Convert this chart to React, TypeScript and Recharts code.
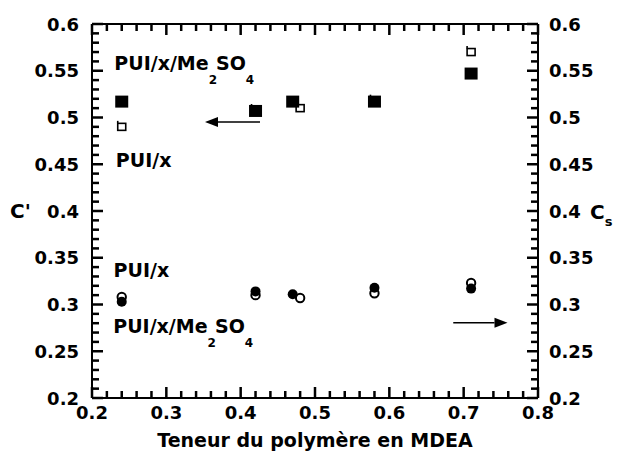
import React from "react";
import {
  ScatterChart,
  Scatter,
  XAxis,
  YAxis,
  ReferenceLine,
  ReferenceDot,
} from "recharts";

const FONT = "'DejaVu Sans', Verdana, sans-serif";

// teneur du polymère en MDEA
const xMe2SO4 = [0.24, 0.42, 0.47, 0.58, 0.71];
const xPUI = [0.24, 0.42, 0.48, 0.58, 0.71];
// C' (axe de gauche)
const cPrimeMe2SO4 = [0.517, 0.507, 0.517, 0.517, 0.547];
const cPrimePUI = [0.49, 0.508, 0.51, 0.518, 0.57];
// Cs (axe de droite)
const csMe2SO4 = [0.303, 0.314, 0.311, 0.318, 0.317];
const csPUI = [0.308, 0.31, 0.307, 0.312, 0.323];

// graduations
const xMajor = [0.2, 0.3, 0.4, 0.5, 0.6, 0.7, 0.8];
const yMajor = [0.2, 0.25, 0.3, 0.35, 0.4, 0.45, 0.5, 0.55, 0.6];
const xTicks = Array.from({ length: 31 }, (_, i) => Math.round((0.2 + i * 0.02) * 100) / 100);
const yTicks = Array.from({ length: 41 }, (_, i) => Math.round((0.2 + i * 0.01) * 100) / 100);

const toPoints = (xs: number[], ys: number[]) => xs.map((x, i) => ({ x, y: ys[i] }));

const isMajor = (list: number[], v: number) => list.some((m) => Math.abs(m - v) < 1e-6);

const txt = { fontFamily: FONT, fontWeight: "bold" as const, fill: "#000" };
const TW = 2.5;

const BottomTick = (props: any) => {
  const { x, y, payload } = props;
  const major = isMajor(xMajor, payload.value);
  return (
    <g>
      <path d={`M${x},${y}L${x},${y - (major ? 11 : 7)}`} stroke="#000" strokeWidth={TW} />
      {major && (
        <text x={x} y={y + 21} textAnchor="middle" fontSize={18} {...txt}>
          {payload.value}
        </text>
      )}
    </g>
  );
};

const TopTick = (props: any) => {
  const { x, y, payload } = props;
  const major = isMajor(xMajor, payload.value);
  return <path d={`M${x},${y}L${x},${y + (major ? 11 : 7)}`} stroke="#000" strokeWidth={TW} />;
};

const LeftTick = (props: any) => {
  const { x, y, payload } = props;
  const major = isMajor(yMajor, payload.value);
  return (
    <g>
      <path d={`M${x},${y}L${x + (major ? 11 : 7)},${y}`} stroke="#000" strokeWidth={TW} />
      {major && (
        <text x={x - 13} y={y + 6.5} textAnchor="end" fontSize={18} {...txt}>
          {payload.value}
        </text>
      )}
    </g>
  );
};

const RightTick = (props: any) => {
  const { x, y, payload } = props;
  const major = isMajor(yMajor, payload.value);
  return (
    <g>
      <path d={`M${x},${y}L${x - (major ? 11 : 7)},${y}`} stroke="#000" strokeWidth={TW} />
      {major && (
        <text x={x + 11} y={y + 6.5} textAnchor="start" fontSize={18} {...txt}>
          {payload.value}
        </text>
      )}
    </g>
  );
};

const FilledSquare = (p: any) => (
  <rect x={p.cx - 6.5} y={p.cy - 6} width={13} height={12} fill="#000" />
);
const OpenSquare = (p: any) => (
  <g>
    <rect x={p.cx - 4} y={p.cy - 3.5} width={8} height={7} fill="#fff" stroke="#000" strokeWidth={1.6} />
    <line x1={p.cx - 4} x2={p.cx - 4} y1={p.cy - 3.5} y2={p.cy - 6} stroke="#000" strokeWidth={1.6} />
  </g>
);
const FilledCircle = (p: any) => <circle cx={p.cx} cy={p.cy} r={5} fill="#000" />;
const OpenCircle = (p: any) => (
  <circle cx={p.cx} cy={p.cy} r={4.2} fill="#fff" stroke="#000" strokeWidth={2} />
);

const Arrow = (p: any) => {
  const { x1, y1, x2, y2 } = p;
  const dir = Math.sign(x2 - x1);
  const hl = 13;
  const hw = 5;
  return (
    <g>
      <line x1={x1} y1={y1} x2={x2 - dir * hl} y2={y2} stroke="#000" strokeWidth={1.5} />
      <polygon points={`${x2},${y2} ${x2 - dir * hl},${y2 - hw} ${x2 - dir * hl},${y2 + hw}`} fill="#000" />
    </g>
  );
};

const ChemLabel = (p: any) => (
  <text x={p.cx} y={p.cy} fontSize={19} {...txt}>
    PUI/x/Me
    <tspan dy={14} fontSize={12}>2</tspan>
    <tspan dy={-14} dx={-1} fontSize={19}>SO</tspan>
    <tspan dy={14} fontSize={12}>4</tspan>
  </text>
);

const PlainLabel = (p: any) => (
  <text x={p.cx} y={p.cy} fontSize={19} {...txt}>
    PUI/x
  </text>
);

export default function App() {
  return (
    <div style={{ position: "absolute", left: 0, top: 0, background: "#fff" }}>
      <ScatterChart
        width={631}
        height={461}
        margin={{ top: 14, right: 33, bottom: 33, left: 32 }}
      >
        <XAxis
          type="number"
          dataKey="x"
          domain={[0.2, 0.8]}
          allowDataOverflow
          ticks={xTicks}
          interval={0}
          tick={<BottomTick />}
          tickLine={false}
          tickSize={0}
          tickMargin={0}
          axisLine={{ stroke: "#000", strokeWidth: 2 }}
          height={30}
          label={(props: any) => {
            const vb = props.viewBox;
            return (
              <text x={vb.x + vb.width / 2} y={vb.y + 49} textAnchor="middle" fontSize={19} {...txt}>
                Teneur du polymère en MDEA
              </text>
            );
          }}
        />
        <XAxis
          xAxisId="top"
          orientation="top"
          type="number"
          dataKey="x"
          domain={[0.2, 0.8]}
          allowDataOverflow
          ticks={xTicks}
          interval={0}
          tick={<TopTick />}
          tickLine={false}
          tickSize={0}
          tickMargin={0}
          axisLine={{ stroke: "#000", strokeWidth: 2 }}
          height={10}
        />
        <YAxis
          yAxisId="left"
          type="number"
          dataKey="y"
          domain={[0.2, 0.6]}
          allowDataOverflow
          ticks={yTicks}
          interval={0}
          tick={<LeftTick />}
          tickLine={false}
          tickSize={0}
          tickMargin={0}
          axisLine={{ stroke: "#000", strokeWidth: 2 }}
          width={60}
          label={(props: any) => {
            const vb = props.viewBox;
            return (
              <text x={vb.x - 22} y={vb.y + vb.height / 2 + 7} fontSize={20} {...txt}>
                C'
              </text>
            );
          }}
        />
        <YAxis
          yAxisId="right"
          orientation="right"
          type="number"
          dataKey="y"
          domain={[0.2, 0.6]}
          allowDataOverflow
          ticks={yTicks}
          interval={0}
          tick={<RightTick />}
          tickLine={false}
          tickSize={0}
          tickMargin={0}
          axisLine={{ stroke: "#000", strokeWidth: 2 }}
          width={60}
          label={(props: any) => {
            const vb = props.viewBox;
            return (
              <text x={vb.x + 52} y={vb.y + vb.height / 2 + 8} fontSize={20} {...txt}>
                C<tspan dy={7} fontSize={13}>s</tspan>
              </text>
            );
          }}
        />

        <Scatter name="PUI/x C'" yAxisId="left" data={toPoints(xPUI, cPrimePUI)} shape={OpenSquare} isAnimationActive={false} />
        <Scatter name="PUI/x/Me2SO4 C'" yAxisId="left" data={toPoints(xMe2SO4, cPrimeMe2SO4)} shape={FilledSquare} isAnimationActive={false} />
        <Scatter name="PUI/x Cs" yAxisId="right" data={toPoints(xPUI, csPUI)} shape={OpenCircle} isAnimationActive={false} />
        <Scatter name="PUI/x/Me2SO4 Cs" yAxisId="right" data={toPoints(xMe2SO4, csMe2SO4)} shape={FilledCircle} isAnimationActive={false} />

        <ReferenceLine yAxisId="left" segment={[{ x: 0.426, y: 0.4952 }, { x: 0.352, y: 0.4952 }]} shape={Arrow} ifOverflow="visible" />
        <ReferenceLine yAxisId="left" segment={[{ x: 0.686, y: 0.2805 }, { x: 0.759, y: 0.2805 }]} shape={Arrow} ifOverflow="visible" />

        <ReferenceDot yAxisId="left" x={0.23} y={0.551} r={0} ifOverflow="visible" shape={ChemLabel} />
        <ReferenceDot yAxisId="left" x={0.232} y={0.447} r={0} ifOverflow="visible" shape={PlainLabel} />
        <ReferenceDot yAxisId="left" x={0.229} y={0.3294} r={0} ifOverflow="visible" shape={PlainLabel} />
        <ReferenceDot yAxisId="left" x={0.2286} y={0.2695} r={0} ifOverflow="visible" shape={ChemLabel} />
      </ScatterChart>
    </div>
  );
}
